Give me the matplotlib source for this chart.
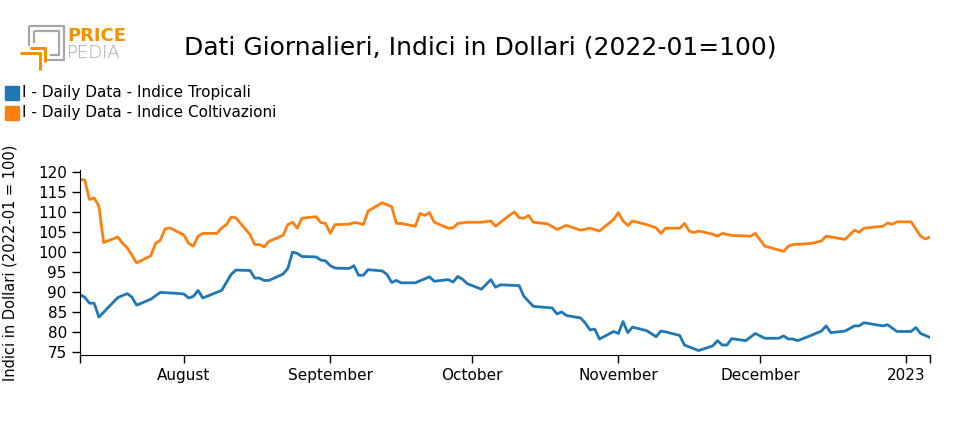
import matplotlib
matplotlib.use('Agg')
import matplotlib.pyplot as plt
import matplotlib.dates as mdates
from matplotlib.lines import Line2D
import numpy as np
import pandas as pd

# ---- data ----
trop_dates = ['2022-07-10', '2022-07-11', '2022-07-12', '2022-07-13', '2022-07-14', '2022-07-18',
              '2022-07-20', '2022-07-21', '2022-07-22', '2022-07-25', '2022-07-27', '2022-07-30',
              '2022-08-01', '2022-08-02', '2022-08-03', '2022-08-04', '2022-08-05', '2022-08-09',
              '2022-08-11', '2022-08-12', '2022-08-15', '2022-08-16', '2022-08-17', '2022-08-18',
              '2022-08-19', '2022-08-22', '2022-08-23', '2022-08-24', '2022-08-25', '2022-08-26',
              '2022-08-29', '2022-08-30', '2022-08-31', '2022-09-01', '2022-09-02', '2022-09-05',
              '2022-09-06', '2022-09-07', '2022-09-08', '2022-09-09', '2022-09-12', '2022-09-13',
              '2022-09-14', '2022-09-15', '2022-09-16', '2022-09-19', '2022-09-22', '2022-09-23',
              '2022-09-26', '2022-09-27', '2022-09-28', '2022-09-29', '2022-09-30', '2022-10-03',
              '2022-10-05', '2022-10-06', '2022-10-07', '2022-10-11', '2022-10-12', '2022-10-14',
              '2022-10-18', '2022-10-19', '2022-10-20', '2022-10-21', '2022-10-24', '2022-10-25',
              '2022-10-26', '2022-10-27', '2022-10-28', '2022-10-31', '2022-11-01', '2022-11-02',
              '2022-11-03', '2022-11-04', '2022-11-07', '2022-11-09', '2022-11-10', '2022-11-11',
              '2022-11-14', '2022-11-15', '2022-11-18', '2022-11-21', '2022-11-22', '2022-11-23',
              '2022-11-24', '2022-11-25', '2022-11-28', '2022-11-30', '2022-12-02', '2022-12-05',
              '2022-12-06', '2022-12-07', '2022-12-08', '2022-12-09', '2022-12-12', '2022-12-14',
              '2022-12-15', '2022-12-16', '2022-12-19', '2022-12-21', '2022-12-22', '2022-12-23',
              '2022-12-27', '2022-12-28', '2022-12-30', '2023-01-02', '2023-01-03', '2023-01-04',
              '2023-01-06']
trop_vals = [89.3, 88.7, 87.2, 87.2, 83.7, 88.6,
             89.6, 88.7, 86.7, 88.2, 89.9, 89.7,
             89.5, 88.5, 88.9, 90.4, 88.5, 90.4,
             94.4, 95.5, 95.4, 93.5, 93.5, 92.9,
             92.9, 94.5, 95.9, 100.0, 99.7, 98.9,
             98.8, 98.0, 97.8, 96.6, 96.0, 95.9,
             96.6, 94.2, 94.2, 95.6, 95.3, 94.4,
             92.4, 92.9, 92.3, 92.3, 93.8, 92.7,
             93.1, 92.5, 93.9, 93.2, 92.1, 90.7,
             93.1, 91.2, 91.8, 91.6, 88.9, 86.4,
             86.0, 84.5, 85.0, 84.1, 83.5, 82.2,
             80.5, 80.7, 78.2, 80.1, 79.6, 82.6,
             79.8, 81.2, 80.3, 78.8, 80.2, 80.0,
             79.1, 76.7, 75.3, 76.5, 77.8, 76.7,
             76.7, 78.3, 77.8, 79.6, 78.4, 78.4,
             79.0, 78.2, 78.2, 77.8, 79.2, 80.2,
             81.5, 79.8, 80.2, 81.5, 81.5, 82.3,
             81.5, 81.8, 80.1, 80.1, 81.1, 79.6,
             78.6]

colt_dates = ['2022-07-10', '2022-07-11', '2022-07-12', '2022-07-13', '2022-07-14', '2022-07-15',
              '2022-07-18', '2022-07-19', '2022-07-20', '2022-07-22', '2022-07-25', '2022-07-26',
              '2022-07-27', '2022-07-28', '2022-07-29', '2022-08-01', '2022-08-02', '2022-08-03',
              '2022-08-04', '2022-08-05', '2022-08-08', '2022-08-09', '2022-08-10', '2022-08-11',
              '2022-08-12', '2022-08-15', '2022-08-16', '2022-08-17', '2022-08-18', '2022-08-19',
              '2022-08-22', '2022-08-23', '2022-08-24', '2022-08-25', '2022-08-26', '2022-08-29',
              '2022-08-30', '2022-08-31', '2022-09-01', '2022-09-02', '2022-09-05', '2022-09-06',
              '2022-09-07', '2022-09-08', '2022-09-09', '2022-09-12', '2022-09-14', '2022-09-15',
              '2022-09-16', '2022-09-19', '2022-09-20', '2022-09-21', '2022-09-22', '2022-09-23',
              '2022-09-26', '2022-09-27', '2022-09-28', '2022-09-30', '2022-10-03', '2022-10-05',
              '2022-10-06', '2022-10-08', '2022-10-10', '2022-10-11', '2022-10-12', '2022-10-13',
              '2022-10-14', '2022-10-17', '2022-10-19', '2022-10-21', '2022-10-24', '2022-10-26',
              '2022-10-28', '2022-10-31', '2022-11-01', '2022-11-02', '2022-11-03', '2022-11-04',
              '2022-11-07', '2022-11-09', '2022-11-10', '2022-11-11', '2022-11-14', '2022-11-15',
              '2022-11-16', '2022-11-17', '2022-11-18', '2022-11-21', '2022-11-22', '2022-11-23',
              '2022-11-25', '2022-11-29', '2022-11-30', '2022-12-02', '2022-12-06', '2022-12-07',
              '2022-12-08', '2022-12-12', '2022-12-14', '2022-12-15', '2022-12-19', '2022-12-21',
              '2022-12-22', '2022-12-23', '2022-12-27', '2022-12-28', '2022-12-29', '2022-12-30',
              '2023-01-02', '2023-01-04', '2023-01-05', '2023-01-06']
colt_vals = [118.3, 118.1, 113.2, 113.6, 111.5, 102.4,
             103.8, 102.2, 101.1, 97.3, 99.1, 102.2,
             103.0, 105.8, 106.1, 104.3, 102.2, 101.5,
             104.0, 104.7, 104.7, 106.1, 106.9, 108.8,
             108.6, 104.4, 101.9, 101.9, 101.3, 102.7,
             104.2, 106.9, 107.5, 106.0, 108.5, 108.9,
             107.4, 107.2, 104.7, 106.9, 107.0, 107.4,
             107.3, 106.9, 110.3, 112.4, 111.4, 107.2,
             107.2, 106.5, 109.7, 109.2, 109.9, 107.5,
             106.0, 106.1, 107.2, 107.5, 107.5, 107.8,
             106.5, 108.4, 110.1, 108.6, 108.5, 109.2,
             107.5, 107.1, 105.7, 106.7, 105.5, 106.0,
             105.3, 108.2, 109.9, 107.8, 106.7, 107.8,
             106.9, 106.1, 104.7, 106.0, 106.0, 107.2,
             105.3, 104.9, 105.3, 104.5, 104.0, 104.7,
             104.2, 104.0, 104.7, 101.5, 100.2, 101.5,
             101.9, 102.2, 102.8, 104.0, 103.2, 105.5,
             105.0, 106.0, 106.5, 107.3, 107.0, 107.6,
             107.6, 104.0, 103.3, 103.8]

series_names = ['I - Daily Data - Indice Tropicali', 'I - Daily Data - Indice Coltivazioni']
colors = ['#1f77b4', '#ff7f0e']
month_ticks = ['2022-08-01', '2022-09-01', '2022-10-01', '2022-11-01', '2022-12-01', '2023-01-01']
month_labels = ['August', 'September', 'October', 'November', 'December', '2023']
y_ticks = [75, 80, 85, 90, 95, 100, 105, 110, 115, 120]

plt.rcParams['font.family'] = ['DejaVu Sans']

fig = plt.figure(figsize=(9.6, 4.3), dpi=100)
ax = fig.add_axes([80 / 960, 1 - 355 / 430, 850 / 960, 185 / 430])

d1 = pd.to_datetime(trop_dates)
d2 = pd.to_datetime(colt_dates)
ax.plot(d1, trop_vals, color=colors[0], lw=2.0, solid_joinstyle='round')
ax.plot(d2, colt_vals, color=colors[1], lw=2.0, solid_joinstyle='round')

ax.set_xlim(d1[0], d1[-1])
ax.set_ylim(74.2, 120.6)
ax.set_yticks(y_ticks)
ax.set_yticklabels([str(v) for v in y_ticks], fontsize=11)
ax.set_xticks(pd.to_datetime(month_ticks))
ax.set_xticklabels(month_labels, fontsize=11)
ax.set_xticks([mdates.date2num(d1[0]), mdates.date2num(d1[-1])], minor=True)
ax.tick_params(axis='x', which='minor', length=6, width=1)
ax.tick_params(axis='both', which='major', length=6, width=1)
ax.spines['top'].set_visible(False)
ax.spines['right'].set_visible(False)
ax.set_ylabel('Indici in Dollari (2022-01 = 100)', fontsize=10.5)
ax.yaxis.set_label_coords(-62 / 850, 0.5)

# title
fig.text(480 / 960, 1 - 47 / 430, 'Dati Giornalieri, Indici in Dollari (2022-01=100)',
         fontsize=18, ha='center', va='center')

# legend (top left, square markers)
for i, name in enumerate(series_names):
    y = 1 - (93 + 20 * i) / 430
    fig.patches.append(plt.Rectangle((5 / 960, y - 7 / 430), 14 / 960, 14 / 430,
                                     transform=fig.transFigure, color=colors[i]))
    fig.text(22 / 960, y, name, fontsize=11, va='center', ha='left')

# logo
def px(x, y):
    return x / 960, 1 - y / 430

gray = '#a6a6a6'
orange = '#f39200'
for xs, ys, c in [([29, 64, 64, 45], [26, 26, 60, 60], gray),
                  ([29, 29], [26, 46], gray),
                  ([34, 59, 59, 50], [31, 31, 55, 55], gray),
                  ([34, 34], [31, 43], gray),
                  ([30, 45, 45], [48, 48, 62], orange),
                  ([20, 40, 40], [53, 53, 70], orange)]:
    pts = [px(a, b) for a, b in zip(xs, ys)]
    fig.add_artist(Line2D([p[0] for p in pts], [p[1] for p in pts], color=c,
                          lw=2.2 if c == orange else 1.6, transform=fig.transFigure,
                          solid_capstyle='butt'))
fig.text(67 / 960, 1 - 36 / 430, 'PRICE', fontsize=13, fontweight='bold', color=orange,
         va='center', ha='left')
fig.text(67 / 960, 1 - 53 / 430, 'PEDIA', fontsize=13, fontweight='light', color=gray,
         va='center', ha='left')

fig.savefig('out.png', dpi=100)
